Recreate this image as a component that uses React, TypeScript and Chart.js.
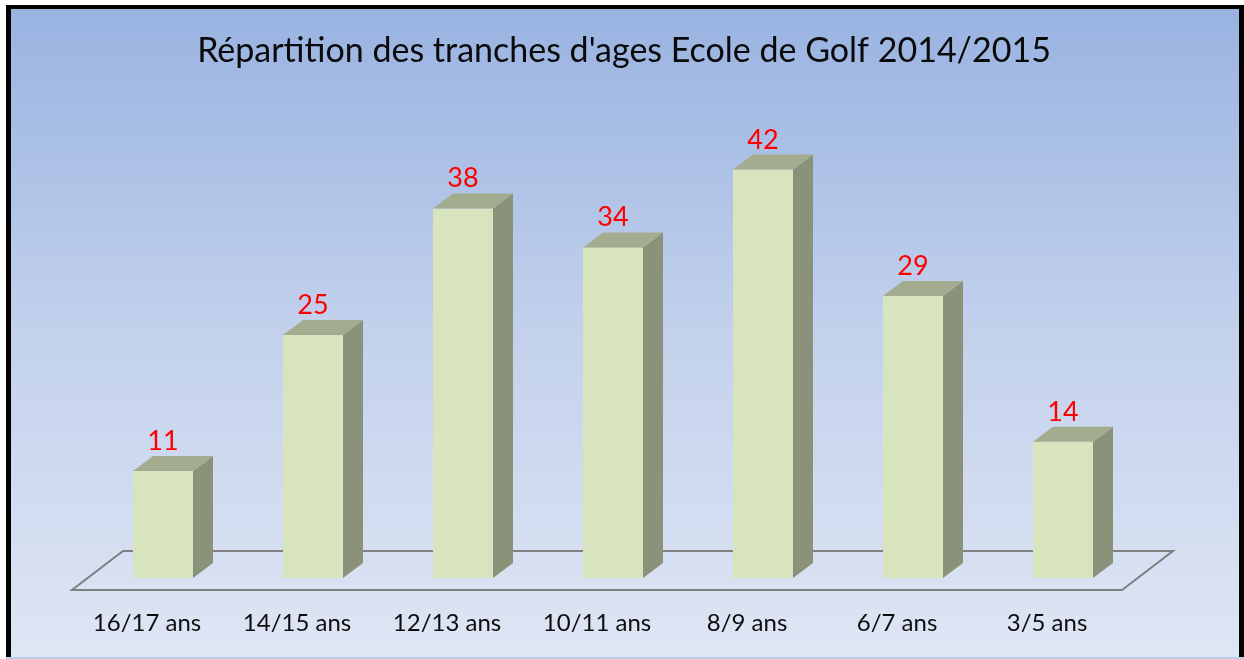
import React, { useEffect, useRef } from "react";
import { Chart, registerables } from "chart.js";

Chart.register(...registerables);

const TITLE = "Répartition des tranches d'ages Ecole de Golf 2014/2015";
const categories = ["16/17 ans", "14/15 ans", "12/13 ans", "10/11 ans", "8/9 ans", "6/7 ans", "3/5 ans"];
const values = [11, 25, 38, 34, 42, 29, 14];
const yMin = 0;
const yMax = 50;

const FONT = "Lato, 'Open Sans', sans-serif";
const DX = 20;
const DY = 15;

const threeD = {
  id: "threeD",
  beforeDraw(chart: any) {
    const { ctx, width, height } = chart;
    ctx.save();
    ctx.fillStyle = "#ffffff";
    ctx.fillRect(0, 0, width, height);
    const g = ctx.createLinearGradient(0, 9, 0, 657);
    g.addColorStop(0, "#99b3e1");
    g.addColorStop(0.5, "#c3d1ec");
    g.addColorStop(1, "#dfe6f4");
    ctx.fillStyle = g;
    ctx.fillRect(11, 9, 1228, 648);
    ctx.fillStyle = "#000000";
    ctx.fillRect(6, 5, 5, 652);
    ctx.fillRect(6, 5, 1238, 4);
    ctx.fillRect(1239, 5, 5, 652);
    ctx.fillStyle = "#b9cdef";
    ctx.fillRect(6, 657, 1238, 2);
    ctx.restore();
  },
  beforeDatasetsDraw(chart: any) {
    const { ctx, chartArea } = chart;
    const { left, right, bottom } = chartArea;
    ctx.save();
    ctx.strokeStyle = "#7f7f7f";
    ctx.lineWidth = 2;
    ctx.beginPath();
    ctx.moveTo(left - 16, bottom + 12);
    ctx.lineTo(right - 16, bottom + 12);
    ctx.lineTo(right + 35, bottom - 27);
    ctx.lineTo(left + 35, bottom - 27);
    ctx.closePath();
    ctx.stroke();
    ctx.restore();
  },
  afterDatasetsDraw(chart: any) {
    const { ctx } = chart;
    const meta = chart.getDatasetMeta(0);
    ctx.save();
    meta.data.forEach((bar: any, i: number) => {
      const half = bar.width / 2;
      const x0 = bar.x - half;
      const x1 = bar.x + half;
      const top = bar.y;
      const base = bar.base;
      ctx.fillStyle = "#8a927a";
      ctx.beginPath();
      ctx.moveTo(x1, top);
      ctx.lineTo(x1 + DX, top - DY);
      ctx.lineTo(x1 + DX, base - DY);
      ctx.lineTo(x1, base);
      ctx.closePath();
      ctx.fill();
      ctx.fillStyle = "#a4ac8f";
      ctx.beginPath();
      ctx.moveTo(x0, top);
      ctx.lineTo(x1, top);
      ctx.lineTo(x1 + DX, top - DY);
      ctx.lineTo(x0 + DX, top - DY);
      ctx.closePath();
      ctx.fill();
      ctx.fillStyle = "#ff0000";
      ctx.font = `27px ${FONT}`;
      ctx.textAlign = "center";
      ctx.textBaseline = "alphabetic";
      ctx.fillText(String(values[i]), bar.x, top - DY - 6);
    });
    ctx.restore();
  },
};

export default function App() {
  const ref = useRef<HTMLCanvasElement | null>(null);
  useEffect(() => {
    if (!ref.current) return;
    const chart = new Chart(ref.current, {
      type: "bar",
      data: {
        labels: categories,
        datasets: [
          {
            data: values,
            backgroundColor: "#d7e4bd",
            borderWidth: 0,
            barPercentage: 0.4,
            categoryPercentage: 1,
            yAxisID: "y",
          },
        ],
      },
      options: {
        animation: false,
        responsive: true,
        maintainAspectRatio: false,
        layout: { padding: { top: 0, left: 20, right: 16, bottom: 0 } },
        plugins: {
          legend: { display: false },
          tooltip: { enabled: false },
          title: {
            display: true,
            text: TITLE,
            color: "#0a0a0a",
            font: { family: FONT, size: 34, weight: "normal", lineHeight: 1.2 },
            padding: { top: 31, bottom: 20 },
          },
        },
        scales: {
          x: {
            grid: { display: false, drawTicks: false },
            border: { display: false },
            ticks: {
              color: "#0d0d0d",
              font: { family: FONT, size: 24 },
              padding: 31,
              labelOffset: -16,
              maxRotation: 0,
            },
            afterFit: (scale: any) => {
              scale.height = 81;
            },
          },
          y: {
            position: "left",
            min: yMin,
            max: yMax,
            grid: { display: false, drawTicks: false },
            border: { display: false },
            ticks: { display: false },
            afterFit: (scale: any) => {
              scale.width = 68;
            },
          },
          yRight: {
            position: "right",
            min: yMin,
            max: yMax,
            grid: { display: false, drawTicks: false },
            border: { display: false },
            ticks: { display: false },
            afterFit: (scale: any) => {
              scale.width = 90;
            },
          },
        },
      },
      plugins: [threeD],
    });
    return () => chart.destroy();
  }, []);
  return (
    <div style={{ position: "absolute", left: 0, top: 0, width: 1244, height: 659 }}>
      <canvas ref={ref} />
    </div>
  );
}
